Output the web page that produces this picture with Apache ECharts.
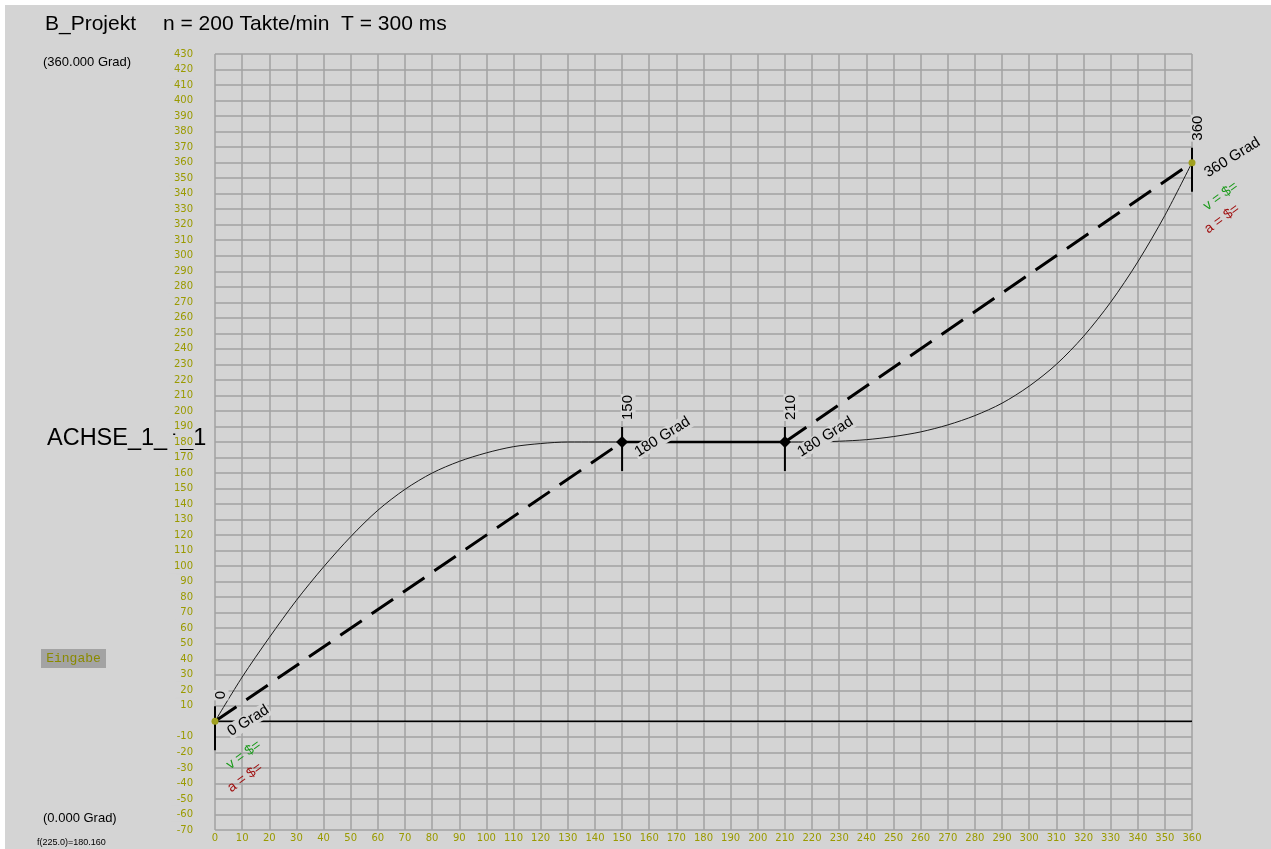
<!DOCTYPE html>
<html><head><meta charset="utf-8">
<script src="https://cdn.jsdelivr.net/npm/echarts@6/dist/echarts.min.js"></script>
<style>html,body{margin:0;padding:0;background:#fff;overflow:hidden}#c{position:absolute;left:5px;top:5px;width:1266px;height:844px;}</style>
</head><body><div id="c"></div>
<script>
// ---- data ----
const curveX = [0,10,20,30,40,50,60,70,80,90,100,110,120,130,140,150,160,170,180,190,200,210,220,230,240,250,260,270,280,290,300,310,320,330,340,350,360];
const curveY = [0,28.5,54,78,99.5,119,136,149.5,160,167.5,173,177,179,180,180,180,180,180,180,180,180,180,180,180.5,181.5,183.5,186.5,191,197,205,216,230,248,270,296,326,360];
const keyX = [0,150,210,360];
const keyY = [0,180,180,360];
const keyTop = ['0','150','210','360'];
const keyGrad = ['0 Grad','180 Grad','180 Grad','360 Grad'];
const keyVA = [true,false,false,true];
const vText = 'v = $=';
const aText = 'a = $=';
const zeroX = [0,360];
const zeroY = [0,0];
const titleName = 'B_Projekt';
const titleInfo = 'n = 200 Takte/min  T = 300 ms';
const axisName = 'ACHSE_1_1_1';
const topText = '(360.000 Grad)';
const bottomText = '(0.000 Grad)';
const inputText = 'Eingabe';
const funcText = 'f(225.0)=180.160';

const BG = '#d4d4d4';
const OLIVE = '#9a9a00';
const LF = '"Liberation Sans", Arial, sans-serif';

const chart = echarts.init(document.getElementById('c'), null, {renderer:'canvas'});

function renderKey(params, api){
  const i = params.dataIndex;
  const p = api.coord([api.value(0), api.value(1)]);
  const x = p[0], y = p[1];
  const ch = [];
  ch.push({type:'line', shape:{x1:x,y1:y-15,x2:x,y2:y+29}, style:{stroke:'#000', lineWidth:2}});
  ch.push({type:'text', x:x+6, y:y-21, rotation:Math.PI/2, z2:5,
    style:{text:keyTop[i], fill:'#000', font:'15px '+LF, textAlign:'left', textVerticalAlign:'middle', backgroundColor:BG, padding:[0,1]}});
  const r = 32*Math.PI/180;
  ch.push({type:'text', x:x+13, y:y+12, rotation:r, z2:5,
    style:{text:keyGrad[i], fill:'#000', font:'15px '+LF, textAlign:'left', textVerticalAlign:'middle', backgroundColor:BG, padding:[0,1]}});
  if (keyVA[i]) {
    const r2 = 36*Math.PI/180;
    ch.push({type:'text', x:x+13, y:y+45, rotation:r2, z2:5,
      style:{text:vText, fill:'#1a9a1a', font:'14px '+LF, textAlign:'left', textVerticalAlign:'middle'}});
    ch.push({type:'text', x:x+14, y:y+68, rotation:r2, z2:5,
      style:{text:aText, fill:'#a01010', font:'14px '+LF, textAlign:'left', textVerticalAlign:'middle'}});
    ch.push({type:'circle', shape:{cx:x, cy:y, r:3.5}, z2:6, style:{fill:'#a0a020'}});
  } else {
    ch.push({type:'polygon', shape:{points:[[x,y-6],[x+6,y],[x,y+6],[x-6,y]]}, z2:6, style:{fill:'#000'}});
  }
  return {type:'group', children:ch};
}

const option = {
  backgroundColor: BG,
  animation: false,
  grid: {left:210, right:79, top:49, bottom:19, containLabel:false},
  xAxis: {
    type:'value', min:0, max:360, interval:10, z:3,
    axisLine:{show:false}, axisTick:{show:false},
    axisLabel:{color:OLIVE, fontFamily:'DejaVu Sans', fontSize:10, margin:3, showMinLabel:true, showMaxLabel:true},
    splitLine:{show:true, lineStyle:{color:'#a2a2a2', width:1.5}}
  },
  yAxis: {
    type:'value', min:-70, max:430, interval:10, z:3,
    axisLine:{show:false}, axisTick:{show:false},
    axisLabel:{color:OLIVE, fontFamily:'DejaVu Sans', fontSize:10, margin:21, lineHeight:12,
      backgroundColor:BG, padding:[2,1,0,5], showMinLabel:true, showMaxLabel:true,
      formatter:function(v){return v===0?'':String(v);}},
    splitLine:{show:true, lineStyle:{color:'#a2a2a2', width:1.5}}
  },
  graphic: [
    {type:'text', x:40, y:19, style:{text:titleName, font:'21px '+LF, fill:'#000', textVerticalAlign:'middle'}},
    {type:'text', x:158, y:19, style:{text:titleInfo, font:'21px '+LF, fill:'#000', textVerticalAlign:'middle'}},
    {type:'text', x:38, y:57, style:{text:topText, font:'13px '+LF, fill:'#000', textVerticalAlign:'middle'}},
    {type:'text', x:42, y:434, z:-10, style:{text:axisName, font:'23.5px '+LF, fill:'#000', textVerticalAlign:'middle'}},
    {type:'rect', shape:{x:36, y:644, width:65, height:19}, style:{fill:'#a3a3a3'}},
    {type:'text', x:68.5, y:653.5, style:{text:inputText, font:'13px "Liberation Mono", monospace', fill:'#8a8a00', textAlign:'center', textVerticalAlign:'middle'}},
    {type:'text', x:38, y:813, style:{text:bottomText, font:'13px '+LF, fill:'#000', textVerticalAlign:'middle'}},
    {type:'text', x:32, y:838, style:{text:funcText, font:'9px '+LF, fill:'#000', textVerticalAlign:'middle'}}
  ],
  series: [
    {type:'line', data:zeroX.map((x,i)=>[x,zeroY[i]]), symbol:'none', silent:true, z:5,
      lineStyle:{color:'#000', width:1.5}},
    {type:'line', data:curveX.map((x,i)=>[x,curveY[i]]), symbol:'none', smooth:0.3, z:5,
      lineStyle:{color:'#1a1a1a', width:1}},
    {type:'line', data:[[keyX[0],keyY[0]],[keyX[1],keyY[1]]], symbol:'none', z:6,
      lineStyle:{color:'#000', width:3, type:[26,12]}},
    {type:'line', data:[[keyX[2],keyY[2]],[keyX[3],keyY[3]]], symbol:'none', z:6,
      lineStyle:{color:'#000', width:3, type:[26,12]}},
    {type:'line', data:[[keyX[1],keyY[1]],[keyX[2],keyY[2]]], symbol:'none', z:6,
      lineStyle:{color:'#000', width:2.5}},
    {type:'custom', renderItem:renderKey, data:keyX.map((x,i)=>[x,keyY[i]]), z:7, clip:false}
  ]
};
chart.setOption(option);
</script>
</body></html>
